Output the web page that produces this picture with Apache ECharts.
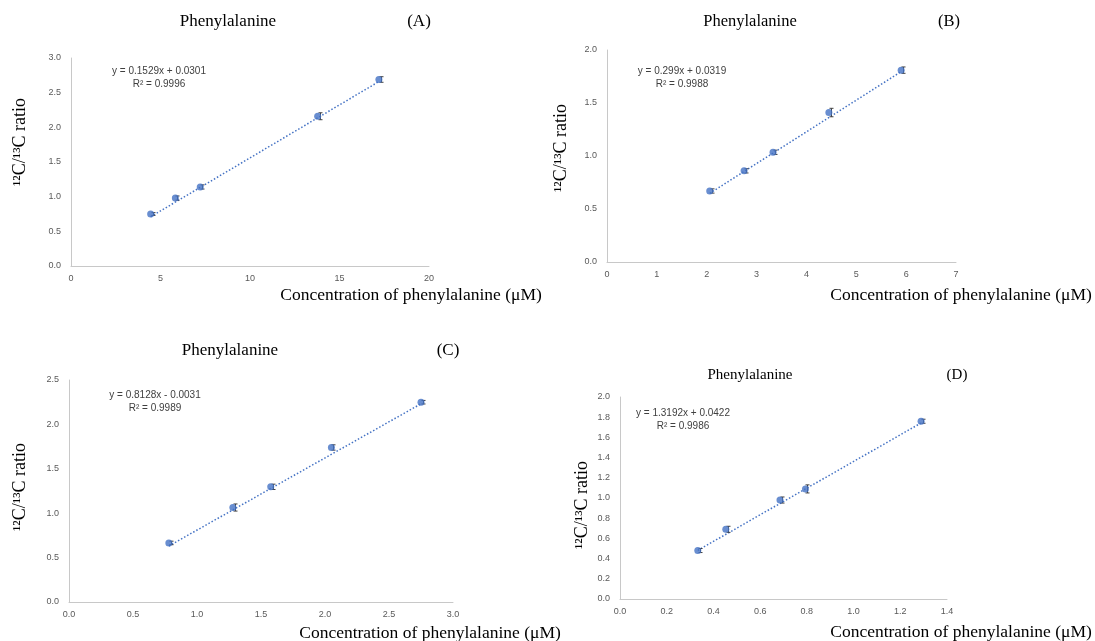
<!DOCTYPE html>
<html>
<head>
<meta charset="utf-8">
<script src="https://cdn.jsdelivr.net/npm/echarts@6/dist/echarts.min.js"></script>
<style>
  html, body { margin: 0; padding: 0; background: #fff; }
  #chart { width: 1095px; height: 641px; }
</style>
</head>
<body>
<div id="chart"></div>
<script>
// concentrations (µM) and 12C/13C ratios for the four calibration panels
const xA = [4.45, 5.83, 7.22, 13.78, 17.2];
const yA = [0.75, 0.98, 1.14, 2.16, 2.69];
const errA = [0.02, 0.03, 0.03, 0.05, 0.04];

const xB = [2.06, 2.75, 3.33, 4.45, 5.9];
const yB = [0.67, 0.86, 1.035, 1.41, 1.81];
const errB = [0.02, 0.02, 0.02, 0.04, 0.03];

const xC = [0.78, 1.28, 1.576, 2.05, 2.75];
const yC = [0.665, 1.064, 1.297, 1.74, 2.25];
const errC = [0.02, 0.04, 0.03, 0.03, 0.02];

const xD = [0.333, 0.453, 0.685, 0.794, 1.289];
const yD = [0.48, 0.69, 0.98, 1.09, 1.76];
const errD = [0.02, 0.03, 0.03, 0.04, 0.02];

// trendline coefficients as printed on the chart
const slopes = [0.1529, 0.299, 0.8128, 1.3192];
const intercepts = [0.0301, 0.0319, -0.0031, 0.0422];
const equations = ['y = 0.1529x + 0.0301', 'y = 0.299x + 0.0319', 'y = 0.8128x - 0.0031', 'y = 1.3192x + 0.0422'];
const rSquared = ['R² = 0.9996', 'R² = 0.9988', 'R² = 0.9989', 'R² = 0.9986'];
const letters = ['(A)', '(B)', '(C)', '(D)'];

// axis ranges
const xMax = [20, 7, 3, 1.4];
const xStep = [5, 1, 0.5, 0.2];
const yMax = [3, 2, 2.5, 2];
const yStep = [0.5, 0.5, 0.5, 0.2];

const blue = '#4472C4';
const grey = '#595959';

// layout of each panel
const grids = [
  {left: 71, top: 58, width: 358, height: 208},
  {left: 607, top: 50, width: 349, height: 212},
  {left: 69, top: 380, width: 384, height: 222},
  {left: 620, top: 397, width: 327, height: 202}
];
const titlePos = [[228, 22, 419, 17], [750, 22, 949, 16.5], [230, 351, 448, 17], [750, 375, 957, 15]];
const eqPos = [[159, 71], [682, 71], [155, 395], [683, 413]];
const xNamePos = [[411, 295], [961, 295], [430, 633], [961, 632]];
const yNamePos = [[20, 142], [561, 148], [20, 487], [582, 505]];

const panels = [[xA, yA, errA], [xB, yB, errB], [xC, yC, errC], [xD, yD, errD]];

const xAxes = [], yAxes = [], series = [], graphics = [];

panels.forEach(([xs, ys, errs], i) => {
  const dec = xStep[i] < 1 ? 1 : 0;
  xAxes.push({
    type: 'value', gridIndex: i, min: 0, max: xMax[i], interval: xStep[i],
    splitLine: {show: false}, axisTick: {show: false},
    axisLine: {show: true, lineStyle: {color: '#c8c8c8', width: 1}},
    axisLabel: {color: grey, fontSize: 9, fontFamily: 'Liberation Sans', margin: 8,
      formatter: v => v.toFixed(dec)}
  });
  yAxes.push({
    type: 'value', gridIndex: i, min: 0, max: yMax[i], interval: yStep[i],
    splitLine: {show: false}, axisTick: {show: false},
    axisLine: {show: true, lineStyle: {color: '#c8c8c8', width: 1}},
    axisLabel: {color: grey, fontSize: 9, fontFamily: 'Liberation Sans', margin: 10,
      formatter: v => v.toFixed(1)}
  });

  // dotted linear trendline between first and last sample
  const x0 = xs[0], x1 = xs[xs.length - 1];
  series.push({
    type: 'line', xAxisIndex: i, yAxisIndex: i, symbol: 'none', silent: true, z: 2,
    lineStyle: {color: blue, width: 1.5, type: [1.5, 2]},
    data: [[x0, slopes[i] * x0 + intercepts[i]], [x1, slopes[i] * x1 + intercepts[i]]]
  });

  // error bars, drawn slightly right of the marker like the original
  series.push({
    type: 'custom', xAxisIndex: i, yAxisIndex: i, z: 3, silent: true,
    data: xs.map((x, k) => [x, ys[k] - errs[k], ys[k] + errs[k]]),
    renderItem: (params, api) => {
      const lo = api.coord([api.value(0), api.value(1)]);
      const hi = api.coord([api.value(0), api.value(2)]);
      const cx = Math.round(lo[0]) + 2.5, w = 2;
      const st = {stroke: '#404040', lineWidth: 1};
      return {type: 'group', children: [
        {type: 'line', shape: {x1: cx, y1: lo[1], x2: cx, y2: hi[1]}, style: st},
        {type: 'line', shape: {x1: cx - w, y1: lo[1], x2: cx + w, y2: lo[1]}, style: st},
        {type: 'line', shape: {x1: cx - w, y1: hi[1], x2: cx + w, y2: hi[1]}, style: st}
      ]};
    }
  });

  series.push({
    type: 'scatter', xAxisIndex: i, yAxisIndex: i, z: 4,
    symbolSize: 7, itemStyle: {color: blue},
    data: xs.map((x, k) => [x, ys[k]])
  });

  const [tx, ty, lx, fs] = titlePos[i];
  const serif = 'Liberation Serif';
  graphics.push(
    {type: 'text', x: tx, y: ty, style: {text: 'Phenylalanine', font: `${fs}px "${serif}"`, fill: '#000', align: 'center', verticalAlign: 'middle'}},
    {type: 'text', x: lx, y: ty, style: {text: letters[i], font: `${fs}px "${serif}"`, fill: '#000', align: 'center', verticalAlign: 'middle'}},
    {type: 'text', x: eqPos[i][0], y: eqPos[i][1], style: {text: equations[i], font: '10px "Liberation Sans"', fill: '#404040', align: 'center', verticalAlign: 'middle'}},
    {type: 'text', x: eqPos[i][0], y: eqPos[i][1] + 13, style: {text: rSquared[i], font: '10px "Liberation Sans"', fill: '#404040', align: 'center', verticalAlign: 'middle'}},
    {type: 'text', x: xNamePos[i][0], y: xNamePos[i][1], style: {text: 'Concentration of phenylalanine (μM)', font: `17.5px "${serif}"`, fill: '#000', align: 'center', verticalAlign: 'middle'}},
    {type: 'text', x: yNamePos[i][0], y: yNamePos[i][1], rotation: Math.PI / 2, style: {text: '¹²C/¹³C ratio', font: `18px "${serif}"`, fill: '#000', align: 'center', verticalAlign: 'middle'}}
  );
});

const chart = echarts.init(document.getElementById('chart'));
chart.setOption({
  animation: false,
  backgroundColor: '#fff',
  grid: grids,
  xAxis: xAxes,
  yAxis: yAxes,
  series: series,
  graphic: graphics
});
</script>
</body>
</html>
